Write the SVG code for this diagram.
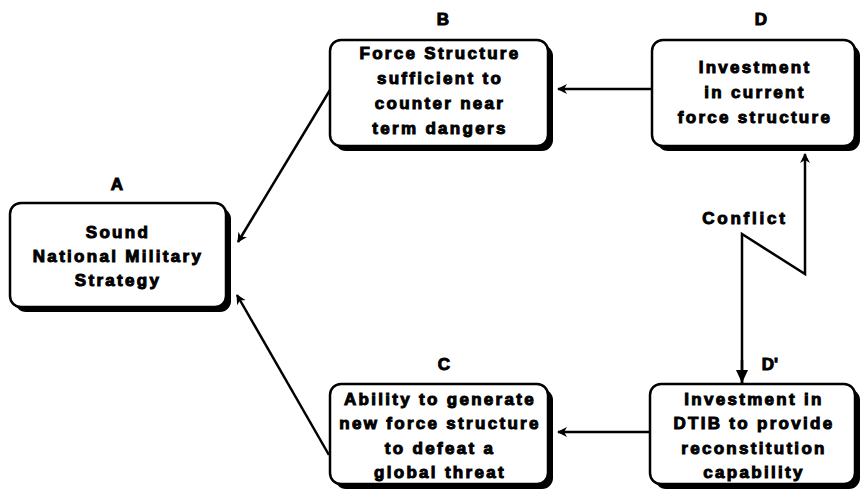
<svg xmlns="http://www.w3.org/2000/svg" width="867" height="494" viewBox="0 0 867 494">
<defs>
<style>
.box{fill:#fff;stroke:#000;stroke-width:2.5}
.sh{fill:#000}
.t{font-family:"Liberation Sans",Arial,sans-serif;font-weight:bold;font-size:17px;letter-spacing:2.3px;text-anchor:middle;fill:#000;stroke:#000;stroke-width:1}
.lbl{font-family:"Liberation Sans",Arial,sans-serif;font-weight:bold;font-size:17px;text-anchor:middle;fill:#000;stroke:#000;stroke-width:1}
.ln{fill:none;stroke:#000;stroke-width:2.5}
</style>
<marker id="ah" markerWidth="12" markerHeight="12" refX="9" refY="5" orient="auto" markerUnits="userSpaceOnUse">
<path d="M0,0 L10,5 L0,10 L3,5 Z" fill="#000"/>
</marker>
<marker id="ahd" markerWidth="14" markerHeight="14" refX="13" refY="6" orient="auto" markerUnits="userSpaceOnUse">
<path d="M0,0 L13,6 L0,12 Z" fill="#000"/>
</marker>
</defs>

<g id="connectors">
<line class="ln" x1="330" y1="90" x2="238" y2="242" marker-end="url(#ah)"/>
<line class="ln" x1="329" y1="455" x2="237" y2="295" marker-end="url(#ah)"/>
<line class="ln" x1="652" y1="89" x2="558" y2="89" marker-end="url(#ah)"/>
<line class="ln" x1="650" y1="432" x2="558" y2="432" marker-end="url(#ah)"/>
<polyline class="ln" points="742,383 742,234 805,274 805,154" marker-end="url(#ah)"/>
<line class="ln" x1="742" y1="360" x2="742" y2="383" marker-end="url(#ahd)"/>
<text class="lbl" x="745" y="224" style="letter-spacing:2.8px">Conflict</text>
</g>

<g id="A">
<text class="lbl" x="117" y="190">A</text>
<rect class="sh" x="15" y="208" width="216" height="104" rx="11"/>
<rect class="box" x="10" y="203" width="216" height="104" rx="11"/>
<text class="t" x="118" y="238">Sound</text>
<text class="t" x="118" y="262">National Military</text>
<text class="t" x="118" y="286">Strategy</text>
</g>

<g id="B">
<text class="lbl" x="443" y="25">B</text>
<rect class="sh" x="335" y="45" width="218" height="106" rx="11"/>
<rect class="box" x="330" y="40" width="218" height="106" rx="11"/>
<text class="t" x="440" y="59">Force Structure</text>
<text class="t" x="440" y="84">sufficient to</text>
<text class="t" x="440" y="109">counter near</text>
<text class="t" x="440" y="134">term dangers</text>
</g>

<g id="D">
<text class="lbl" x="761" y="25">D</text>
<rect class="sh" x="657" y="45" width="203" height="106" rx="11"/>
<rect class="box" x="652" y="40" width="203" height="106" rx="11"/>
<text class="t" x="755" y="73">Investment</text>
<text class="t" x="755" y="98">in current</text>
<text class="t" x="755" y="123">force structure</text>
</g>

<g id="C">
<text class="lbl" x="444" y="370">C</text>
<rect class="sh" x="335" y="389" width="218" height="100" rx="11"/>
<rect class="box" x="330" y="384" width="218" height="100" rx="11"/>
<text class="t" x="440" y="405">Ability to generate</text>
<text class="t" x="440" y="429">new force structure</text>
<text class="t" x="440" y="454">to defeat a</text>
<text class="t" x="440" y="478">global threat</text>
</g>

<g id="Dprime">
<text class="lbl" x="770" y="370">D'</text>
<rect class="sh" x="655" y="389" width="205" height="100" rx="11"/>
<rect class="box" x="650" y="384" width="205" height="100" rx="11"/>
<text class="t" x="754" y="405">Investment in</text>
<text class="t" x="754" y="429">DTIB to provide</text>
<text class="t" x="754" y="454">reconstitution</text>
<text class="t" x="754" y="478">capability</text>
</g>
</svg>
